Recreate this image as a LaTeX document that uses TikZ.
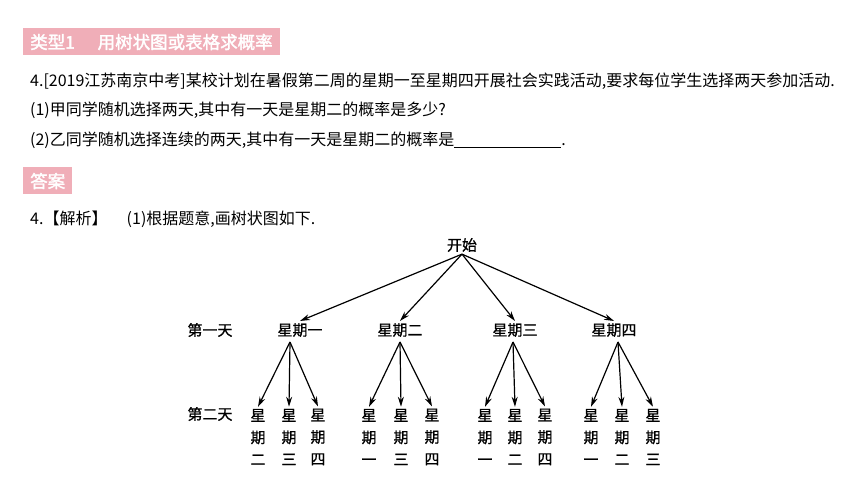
\documentclass[tikz,border=0pt]{standalone}
\usepackage{fontspec}
\setmainfont{Noto Sans CJK SC}
\newfontfamily\headfont{Noto Sans CJK SC}[FakeBold=2]
\newfontfamily\treefont{Noto Sans CJK SC}[FakeBold=0.8]
\usetikzlibrary{arrows.meta}
\definecolor{tagpink}{RGB}{240,174,184}
\tikzset{
  tag/.style={fill=tagpink, text=white, font=\headfont\fontsize{17.5}{17.5}\selectfont,
    inner xsep=7pt, inner ysep=0pt, minimum height=27pt, anchor=west},
  textline/.style={anchor=base west, inner sep=0pt, font=\fontsize{16}{16}\selectfont},
  day/.style={font=\treefont\fontsize{15}{22}\selectfont, inner sep=2pt, align=center},
  arr/.style={-{Stealth[length=10pt,width=6pt]}, line width=1.2pt},
}

\begin{document}
\begin{tikzpicture}[x=1pt, y=-1pt]
    \useasboundingbox (0,0) rectangle (860,484);
    % question
    \node[tag] (type) at (23,42) {类型1\hspace{1.3em}用树状图或表格求概率};
    \node[textline] (q0) at (30,87) {4.[2019江苏南京中考]某校计划在暑假第二周的星期一至星期四开展社会实践活动,要求每位学生选择两天参加活动.};
    \node[textline] (q1) at (30,116) {(1)甲同学随机选择两天,其中有一天是星期二的概率是多少?};
    \node[textline] (q2) at (30,146) {(2)乙同学随机选择连续的两天,其中有一天是星期二的概率是\underline{\hspace{107pt}}.};
    % answer
    \node[tag] (ans) at (23,181) {答案};
    \node[textline] (sol) at (30,225) {4.【解析】\hspace{1.2em}(1)根据题意,画树状图如下.};
    % tree
    \node[day] (start) at (462,245) {开始};
    \node[day] (first) at (210,330) {第一天};
    \node[day] (second) at (210,414) {第二天};
    \foreach \i/\x/\d in {1/300/一,2/400/二,3/515/三,4/614/四}{
      \node[day] (d\i) at (\x,330) {星期\d};
      \draw[arr] (start.south) -- (d\i.north);
    }
    \foreach \g/\ax/\xa/\xb/\xc/\la/\lb/\lc in {1/290/258/289/318/二/三/四,
        2/400/369/401/432/一/三/四, 3/513/485/515/545/一/二/四, 4/618/591/622/653/一/二/三}{
      \coordinate (a\g) at (\ax,342);
      \node[day] (l\g a) at (\xa,437) {星\\期\\\la};
      \node[day] (l\g b) at (\xb,437) {星\\期\\\lb};
      \node[day] (l\g c) at (\xc,437) {星\\期\\\lc};
      \foreach \k in {a,b,c}
        \draw[arr] (a\g) -- (l\g\k.north);
    }
\end{tikzpicture}
\end{document}
